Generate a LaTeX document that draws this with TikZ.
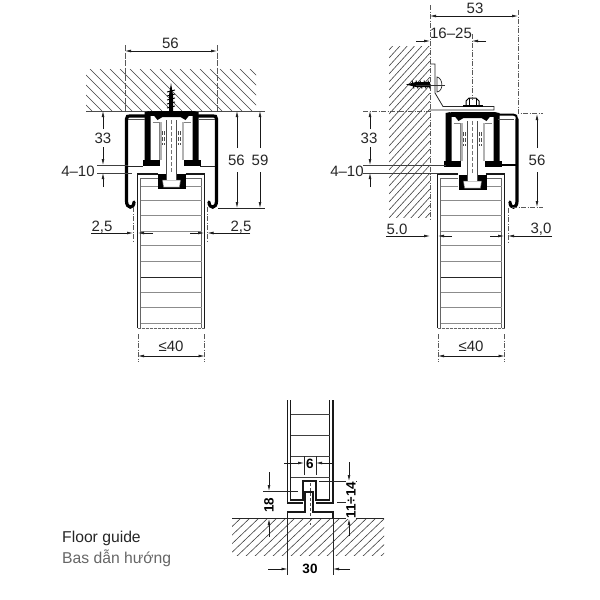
\documentclass[tikz,border=0pt]{standalone}
\usepackage{fontspec}
\setmainfont{Liberation Sans}
\usetikzlibrary{arrows.meta}
\tikzset{
  dimline/.style={line width=0.5pt,draw=black!75},
  dimarrow/.style={line width=0.6pt,draw=black!90,-{Latex[length=6pt,width=2.8pt]}},
  dimboth/.style={line width=0.6pt,draw=black!90,{Latex[length=6pt,width=2.8pt]}-{Latex[length=6pt,width=2.8pt]}},
  extline/.style={line width=0.5pt,draw=black!65},
  extdash/.style={line width=0.6pt,draw=black!65,dash pattern=on 5pt off 1.5pt on 1pt off 1.5pt},
  hatchline/.style={line width=0.6pt,draw=black!75},
  slat/.style={line width=0.9pt,draw=black!45},
  doorwall/.style={line width=1.3pt,draw=black!90},
  doorthin/.style={line width=0.5pt,draw=black!60},
  thick profile/.style={line width=3.2pt,draw=black,line cap=round},
  lab/.style={font=\fontsize{15}{15}\selectfont,text=black!85,inner sep=0pt},
  boldlab/.style={font=\bfseries\fontsize{13.5}{13.5}\selectfont,text=black,inner sep=0pt},
  caption/.style={font=\fontsize{15.7}{15.7}\selectfont,inner sep=0pt,anchor=west},
  pics/carriage/.style={code={
    \fill[black] (-22,111) rectangle (22,115.5);
    \fill[black] (-27,112) -- (-22,111) -- (-21,116) -- (-21,160) -- (-27,160) -- cycle;
    \fill[black] (27,112) -- (22,111) -- (21,116) -- (21,160) -- (27,160) -- cycle;
    \fill[black] (-29,160) rectangle (-12,166);
    \fill[black] (29,160) rectangle (12,166);
    \fill[black] (-18,115) -- (-14,120) -- (-9,117) -- (9,117) -- (14,120) -- (18,115) -- cycle;
    \draw[line width=0.7pt,black!50] (-19,122) -- (-12,122) -- (-12,160);
    \draw[line width=0.7pt,black!50] (19,122) -- (12,122) -- (12,160);
    \fill[black!30] (-12,122) rectangle (-10,160);
    \fill[black!30] (12,122) rectangle (10,160);
    \draw[line width=0.8pt,black!70] (-5,120) -- (-5,174) (5,120) -- (5,174);
    \draw[line width=0.6pt,black!70,dash pattern=on 4pt off 2pt] (-9,131) -- (-9,145) (9,131) -- (9,145) (-7,131) -- (-7,145) (7,131) -- (7,145);
    \draw[line width=0.6pt,black!55,dash pattern=on 4pt off 2pt] (0,120) -- (0,174);
    \fill[black] (-14,174) rectangle (14,189);
    \fill[white] (-9,180) -- (9,180) -- (8,187) -- (-8,187) -- cycle;
    \draw[line width=0.5pt,black!60] (-9,180) -- (9,180) -- (8,187) -- (-8,187) -- cycle;
    \fill[white] (-5,174) rectangle (5,180);
    \draw[line width=0.8pt,black!70] (-5,174) -- (-5,180) (5,174) -- (5,180);
  }},
  pics/door/.style={code={
    \draw[doorwall] (-34,328) -- (-34,174) -- (-14,174) (14,174) -- (33,174) -- (33,328);
    \draw[doorthin] (-31,328) -- (-31,178) -- (-14,178) (14,178) -- (30,178) -- (30,328);
    \foreach \yy in {200,215,231,245,261,292,307,323}{\draw[slat] (-31,\yy) -- (30,\yy);}
    \draw[slat] (-31,186) -- (-14,186) (14,186) -- (30,186);
    \draw[line width=0.9pt,draw=black!85] (-31,277) -- (30,277);
    \draw[doorthin,dash pattern=on 3pt off 1pt] (-34,328) -- (33,328);
  }}
}
\begin{document}
\begin{tikzpicture}[x=1pt,y=-1pt]
\useasboundingbox (0,0) rectangle (600,600);
% ---------- left view: ceiling
\begin{scope}
  \clip (86,69) rectangle (256,111);
  \foreach \i in {0,...,22}{\draw[hatchline] ({50+\i*10},69) -- ({92+\i*10},111);}
\end{scope}
\coordinate (ceilL) at (86,111); \coordinate (ceilR) at (265,111);
\draw[line width=0.7pt,black!70] (ceilL) -- (ceilR);
% screw
\fill[black] (171,83) -- (173,95) -- (173,111) -- (169,111) -- (169,95) -- cycle;
\foreach \yy in {91,95,...,109}{\draw[line width=0.9pt] (167,\yy+1) -- (175,\yy-1);}
% profile
\pic at (171.5,0) {door};
\pic at (171.5,0) {carriage};
\draw[thick profile] (134,202) .. controls (134,209) and (126.5,209) .. (126.5,201) -- (126.5,119) .. controls (126.5,116) and (128,116) .. (130,116) -- (146,116);
\draw[thick profile] (209,202) .. controls (209,209) and (216.5,209) .. (216.5,201) -- (216.5,119) .. controls (216.5,116) and (215,116) .. (213,116) -- (197,116);
\draw[line width=0.6pt,black!70] (128,119) -- (145,119) (198,119) -- (215,119);
\draw[line width=1pt,black!85] (128,166) -- (143,166) (200,166) -- (215,166);
% left-view dimensions
\coordinate (a1) at (125,51); \coordinate (a2) at (217,51);
\draw[extline,dash pattern=on 6pt off 1.5pt] (125,45) -- (125,112) (217,45) -- (217,112);
\draw[dimboth] (a1) -- (a2);
\node[lab] (t56a) at (170.5,43) {56};
\draw[dimline] (97,165) -- (128,165) (97,173) -- (132,173);
\coordinate (b1) at (103,111); \coordinate (b2) at (103,165); \coordinate (b3) at (103,187); \coordinate (b4) at (103,173);
\draw[dimarrow] (103,129) -- (b1);
\draw[dimarrow] (103,147) -- (b2);
\draw[dimarrow] (b3) -- (b4);
\node[lab] (t33a) at (103,138) {33};
\node[lab] (t410a) at (78,171) {4--10};
\draw[line width=1pt,black!85] (218,208) -- (265,208);
\coordinate (c1) at (237,111); \coordinate (c2) at (237,208);
\coordinate (d1) at (260,111); \coordinate (d2) at (260,208);
\draw[dimarrow] (237,148) -- (c1);
\draw[dimarrow] (237,172) -- (c2);
\draw[dimarrow] (260,148) -- (d1);
\draw[dimarrow] (260,172) -- (d2);
\node[lab] (t56b) at (236.5,160) {56};
\node[lab] (t59) at (260,160) {59};
\draw[extdash] (133,207) -- (133,243) (207.5,207) -- (207.5,243);
\coordinate (e1) at (133,233); \coordinate (e2) at (138,233); \coordinate (e3) at (204,233); \coordinate (e4) at (207.5,233);
\draw[dimarrow] (91,233) -- (e1);
\draw[dimarrow] (153,233) -- (e2);
\draw[dimarrow] (190,233) -- (e3);
\draw[dimarrow] (250,233) -- (e4);
\node[lab] (t25a) at (102,227) {2,5};
\node[lab] (t25b) at (241,227) {2,5};
\draw[extdash] (138,334) -- (138,362) (204.5,334) -- (204.5,362);
\coordinate (f1) at (138,356); \coordinate (f2) at (204.5,356);
\draw[dimboth] (f1) -- (f2);
\node[lab] (t40a) at (171,346) {≤40};
% ---------- right view: wall
\begin{scope}
  \clip (389,46) rectangle (430,217);
  \foreach \i in {0,...,26}{\draw[hatchline] (389,{50+\i*8}) -- (430,{5+\i*8});}
\end{scope}
\draw[extdash] (430,5) -- (430,220);
% screw and bracket
\draw[line width=0.8pt,black!85] (430,64) -- (435,64) -- (435,93) -- (443,106.5) -- (494,106.5) -- (494,110) -- (430,110);
\fill[black] (406,84.5) -- (416,82) -- (430,82) -- (430,87) -- (416,87) -- cycle;
\foreach \xx in {413,417,...,429}{\draw[line width=0.9pt] (\xx-1,80.5) -- (\xx+1,88.5);}
\draw[line width=0.7pt,black!85] (437,77) .. controls (443,78) and (444,91) .. (437,92) -- cycle;
\draw[line width=0.6pt,black!80] (416,85) -- (445,85);
\draw[line width=1pt] (466,106) -- (466,101) -- (469,98) -- (476,98) -- (479,101) -- (479,106);
\draw[line width=0.7pt] (469,98) -- (469,106) (476,98) -- (476,106);
\fill[black] (463,105) rectangle (483,107);
% profile
\pic at (471.5,0) {door};
\pic at (472.5,1) {carriage};
\draw[line width=2pt,black] (498,114.5) -- (513,114.5) .. controls (516,114.5) and (517,116) .. (517,119);
\draw[thick profile] (517,119) -- (517,201) .. controls (517,209) and (510,209) .. (510,202);
\draw[line width=0.6pt,black!70] (498,119) -- (514,119);
\draw[line width=1.3pt,black] (500,165) -- (516,165);
% right-view dimensions
\draw[extdash] (518,10) -- (518,113) -- (543,113);
\coordinate (g1) at (430,16); \coordinate (g2) at (518,16);
\draw[dimboth] (g1) -- (g2);
\node[lab] (t53) at (475,8) {53};
\draw[extdash] (472,34) -- (472,100);
\coordinate (h1) at (430,41); \coordinate (h2) at (472,41);
\draw[dimarrow] (416,41) -- (h1);
\draw[dimarrow] (486,41) -- (h2);
\node[lab] (t1625) at (451,33) {16--25};
\draw[extdash] (363,111) -- (430,111);
\draw[dimline] (363,165) -- (446,165) (363,173) -- (440,173);
\coordinate (i1) at (370,111); \coordinate (i2) at (370,165); \coordinate (i3) at (370,173);
\draw[dimarrow] (370,129) -- (i1);
\draw[dimarrow] (370,147) -- (i2);
\draw[dimarrow] (370,187) -- (i3);
\node[lab] (t33b) at (369,138) {33};
\node[lab] (t410b) at (347,171) {4--10};
\draw[extdash] (512,207) -- (543,207);
\coordinate (j1) at (537,114); \coordinate (j2) at (537,207);
\draw[dimarrow] (537,148) -- (j1);
\draw[dimarrow] (537,172) -- (j2);
\node[lab] (t56c) at (537,160) {56};
\draw[extdash] (508,208) -- (508,243);
\coordinate (k1) at (430,236); \coordinate (k2) at (438,236); \coordinate (k3) at (504,236); \coordinate (k4) at (508,236);
\draw[dimarrow] (386,236) -- (k1);
\draw[dimarrow] (452,236) -- (k2);
\draw[dimarrow] (490,236) -- (k3);
\draw[dimarrow] (552,236) -- (k4);
\node[lab] (t50) at (397,229) {5.0};
\node[lab] (t30b) at (541,229) {3,0};
\draw[extdash] (438,334) -- (438,362) (504.5,334) -- (504.5,362);
\coordinate (l1) at (438,356); \coordinate (l2) at (504.5,356);
\draw[dimboth] (l1) -- (l2);
\node[lab] (t40b) at (471,346) {≤40};
% ---------- floor guide
\begin{scope}
  \clip (232,518) rectangle (384,555);
  \foreach \i in {0,...,22}{\draw[hatchline] ({190+\i*9},558) -- ({232+\i*9},518);}
\end{scope}
\draw[line width=0.9pt,black!85] (232,518.5) -- (384,518.5);
\draw[line width=1.3pt,black!90] (287.5,400) -- (287.5,503) -- (303,503) (333,400) -- (333,503) -- (316,503);
\draw[line width=1.1pt,black!90] (290.5,400) -- (290.5,500) -- (303,500) -- (303,481) -- (316,481) -- (316,500) -- (329.5,500) -- (329.5,400);
\foreach \yy in {414,435,456,477}{\draw[line width=0.9pt,black!75] (290.5,\yy) -- (329.5,\yy);}
\draw[line width=1.2pt,black!90] (287.5,518) -- (287.5,512) -- (305,512) -- (305,492) -- (313,492) -- (313,512) -- (333,512) -- (333,518);
\draw[line width=0.7pt,black!70,dash pattern=on 3pt off 2pt] (310,483) -- (310,525);
\draw[line width=0.9pt,black!85] (287.5,518) -- (287.5,575) (333,518) -- (333,575);
\coordinate (m1) at (287.5,569); \coordinate (m2) at (333,569);
\draw[dimarrow] (268,569) -- (m1);
\draw[dimarrow] (350,569) -- (m2);
\node[boldlab] (t30) at (310,569) {30};
\draw[line width=0.8pt,black!85] (304,456) -- (304,475) (316,456) -- (316,475);
\coordinate (n1) at (304,463); \coordinate (n2) at (316,463);
\draw[dimarrow] (284,463) -- (n1);
\draw[dimarrow] (334,463) -- (n2);
\node[boldlab] (t6) at (310,464) {6};
\draw[line width=0.7pt,black!85] (263,491) -- (298,491);
\coordinate (o1) at (269,491); \coordinate (o2) at (269,519);
\draw[dimarrow] (269,472) -- (o1);
\draw[dimarrow] (269,537) -- (o2);
\node[boldlab,rotate=90,fill=white,inner sep=1pt] (t18) at (269,505) {18};
\draw[line width=0.7pt,black!85] (319,481) -- (357,481) (337,502) -- (349,502);
\coordinate (p1) at (349,481); \coordinate (p2) at (349,519);
\draw[dimarrow] (349,462) -- (p1);
\draw[dimarrow] (349,536) -- (p2);
\node[boldlab,rotate=90,fill=white,inner sep=0.5pt] (t1114) at (351,500) {11÷14};
% caption
\node[caption,text=black!85] (cap1) at (62,538) {Floor guide};
\node[caption,text=black!60] (cap2) at (62,558) {Bas dẫn hướng};
\end{tikzpicture}
\end{document}
